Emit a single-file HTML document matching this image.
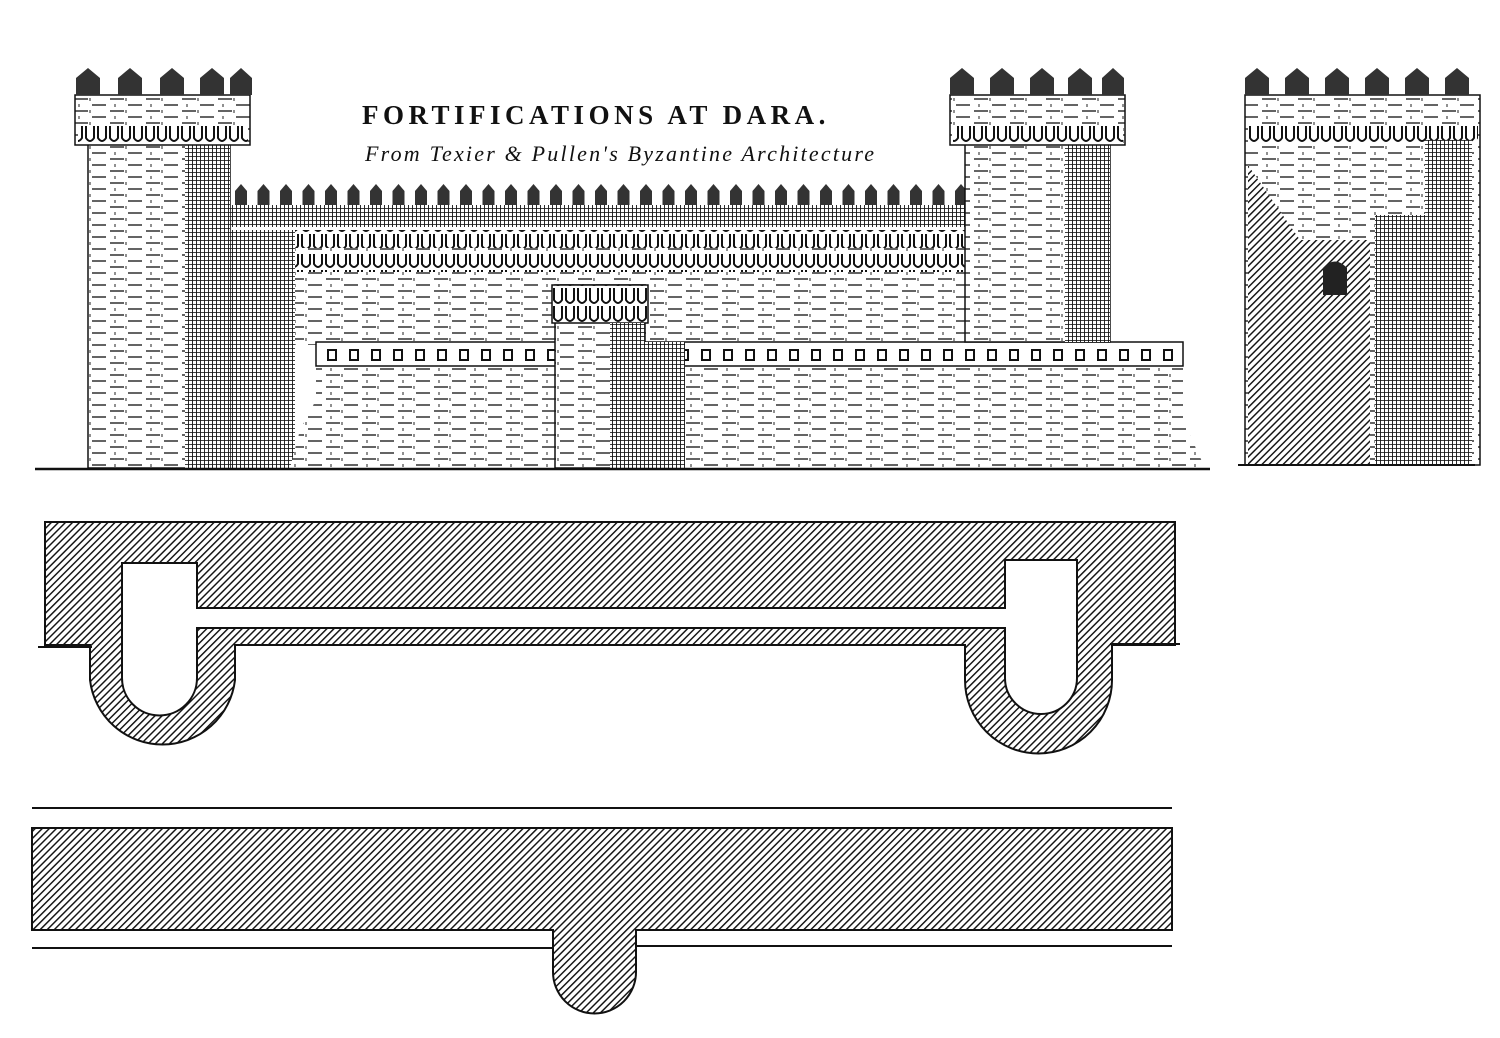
<!DOCTYPE html>
<html><head><meta charset="utf-8"><style>
html,body{margin:0;padding:0;background:#fff;}
svg{display:block}
</style></head><body>
<svg width="1500" height="1038" viewBox="0 0 1500 1038" xmlns="http://www.w3.org/2000/svg">
<defs>
<pattern id="hatch" width="5" height="5" patternUnits="userSpaceOnUse" patternTransform="rotate(45)">
<rect width="5" height="5" fill="#fff"/><line x1="0" y1="0" x2="0" y2="5" stroke="#111" stroke-width="2.9"/></pattern>
<pattern id="dark" width="4" height="4" patternUnits="userSpaceOnUse">
<rect width="4" height="4" fill="#fff"/><line x1="0" y1="0" x2="0" y2="4" stroke="#111" stroke-width="1.8"/><line x1="0" y1="0" x2="4" y2="0" stroke="#111" stroke-width="1.6"/></pattern>
<pattern id="brick" width="36" height="12" patternUnits="userSpaceOnUse">
<rect width="36" height="12" fill="#fff"/>
<line x1="2" y1="3" x2="16" y2="3" stroke="#222" stroke-width="1.4"/>
<line x1="20" y1="9" x2="34" y2="9" stroke="#222" stroke-width="1.4"/>
<line x1="18" y1="2" x2="18" y2="5" stroke="#222" stroke-width="1"/>
<line x1="7" y1="8" x2="7" y2="11" stroke="#222" stroke-width="1"/></pattern>
<pattern id="merlon" width="22.5" height="24" patternUnits="userSpaceOnUse" x="232" y="183">
<path d="M3 24 V8 L9 1 L15 8 V24 Z" fill="#333"/></pattern>
<pattern id="mach" width="12" height="18" patternUnits="userSpaceOnUse">
<rect width="12" height="18" fill="#fff"/><path d="M2 0 V12 Q6 18 10 12 V0" fill="none" stroke="#111" stroke-width="2"/></pattern>
<pattern id="para" width="22" height="20" patternUnits="userSpaceOnUse" x="320" y="345">
<rect width="22" height="20" fill="#fff"/><rect x="8" y="5" width="8" height="10" fill="none" stroke="#111" stroke-width="2"/></pattern>
</defs>

<rect x="230" y="205" width="737" height="140" fill="url(#brick)"/>
<rect x="230" y="183" width="737" height="24" fill="url(#merlon)"/>
<rect x="230" y="205" width="737" height="22" fill="url(#dark)"/>
<rect x="230" y="230" width="737" height="18" fill="url(#mach)"/>
<rect x="230" y="254" width="737" height="18" fill="url(#mach)"/>
<rect x="230" y="230" width="65" height="238" fill="url(#dark)"/>
<path d="M316 342 H1183 V420 L1205 468 H290 L300 430 L316 400 Z" fill="url(#brick)"/>
<rect x="316" y="342" width="867" height="24" fill="url(#para)" stroke="#111" stroke-width="1.5"/>
<rect x="555" y="285" width="90" height="183" fill="url(#brick)" stroke="#111" stroke-width="1.5"/>
<rect x="552" y="285" width="96" height="38" fill="url(#mach)" stroke="#111" stroke-width="1.5"/>
<rect x="610" y="323" width="35" height="145" fill="url(#dark)"/>
<rect x="645" y="342" width="40" height="126" fill="url(#dark)"/>
<rect x="88" y="140" width="142" height="328" fill="url(#brick)" stroke="#111" stroke-width="1.5"/>
<rect x="185" y="140" width="45" height="328" fill="url(#dark)"/>
<rect x="75" y="95" width="175" height="50" fill="url(#brick)" stroke="#111" stroke-width="1.5"/>
<rect x="78" y="125" width="170" height="18" fill="url(#mach)"/>
<g fill="#333"><path d="M76 95 V78 L88 68 L100 78 V95Z"/><path d="M118 95 V78 L130 68 L142 78 V95Z"/><path d="M160 95 V78 L172 68 L184 78 V95Z"/><path d="M200 95 V78 L212 68 L224 78 V95Z"/><path d="M230 95 V78 L241 68 L252 78 V95Z"/></g>
<rect x="965" y="140" width="145" height="202" fill="url(#brick)" stroke="#111" stroke-width="1.5"/>
<rect x="1065" y="140" width="45" height="202" fill="url(#dark)"/>
<rect x="950" y="95" width="175" height="50" fill="url(#brick)" stroke="#111" stroke-width="1.5"/>
<rect x="953" y="125" width="170" height="18" fill="url(#mach)"/>
<g fill="#333"><path d="M950 95 V78 L962 68 L974 78 V95Z"/><path d="M990 95 V78 L1002 68 L1014 78 V95Z"/><path d="M1030 95 V78 L1042 68 L1054 78 V95Z"/><path d="M1068 95 V78 L1080 68 L1092 78 V95Z"/><path d="M1102 95 V78 L1113 68 L1124 78 V95Z"/></g>
<line x1="35" y1="469" x2="1210" y2="469" stroke="#111" stroke-width="2.5"/>

<rect x="1245" y="95" width="235" height="370" fill="url(#brick)" stroke="#111" stroke-width="1.5"/>
<rect x="1248" y="125" width="230" height="18" fill="url(#mach)"/>
<g fill="#333"><path d="M1245 95 V78 L1257 68 L1269 78 V95Z"/><path d="M1285 95 V78 L1297 68 L1309 78 V95Z"/><path d="M1325 95 V78 L1337 68 L1349 78 V95Z"/><path d="M1365 95 V78 L1377 68 L1389 78 V95Z"/><path d="M1405 95 V78 L1417 68 L1429 78 V95Z"/><path d="M1445 95 V78 L1457 68 L1469 78 V95Z"/></g>
<path d="M1248 165 L1300 240 H1370 V465 H1248 Z" fill="url(#hatch)"/>
<rect x="1375" y="215" width="97" height="250" fill="url(#dark)"/>
<rect x="1425" y="140" width="47" height="80" fill="url(#dark)"/>
<path d="M1323 295 V268 Q1335 255 1347 268 V295 Z" fill="#222"/>
<line x1="1238" y1="465" x2="1475" y2="465" stroke="#111" stroke-width="2"/>

<text x="362" y="124" font-family="Liberation Serif, serif" font-weight="bold" font-size="27" letter-spacing="4.5" fill="#111">FORTIFICATIONS AT DARA.</text>
<text x="365" y="161" font-family="Liberation Serif, serif" font-style="italic" font-size="22" letter-spacing="2.2" fill="#111">From Texier &amp; Pullen's Byzantine Architecture</text>

<path d="M45 522 H1175 V645 H1112 V680 A73 73 0 0 1 965 680 V645 H235 V680 A73 73 0 0 1 90 680 V645 H45 Z" fill="url(#hatch)" stroke="#111" stroke-width="2"/>
<path d="M122 563 H197 V608 H1005 V560 H1077 V678 A36 36 0 0 1 1005 678 V628 H197 V678 A37.5 37.5 0 0 1 122 678 Z" fill="#fff" stroke="#111" stroke-width="2"/>
<line x1="38" y1="647" x2="92" y2="647" stroke="#111" stroke-width="2"/>
<line x1="1110" y1="644" x2="1180" y2="644" stroke="#111" stroke-width="2"/>

<line x1="32" y1="808" x2="1172" y2="808" stroke="#111" stroke-width="2"/>
<path d="M32 828 H1172 V930 H636 V972 A41.5 41.5 0 0 1 553 972 V930 H32 Z" fill="url(#hatch)" stroke="#111" stroke-width="2"/>
<line x1="32" y1="948" x2="553" y2="948" stroke="#111" stroke-width="2"/>
<line x1="636" y1="946" x2="1172" y2="946" stroke="#111" stroke-width="2"/>
</svg>
</body></html>
